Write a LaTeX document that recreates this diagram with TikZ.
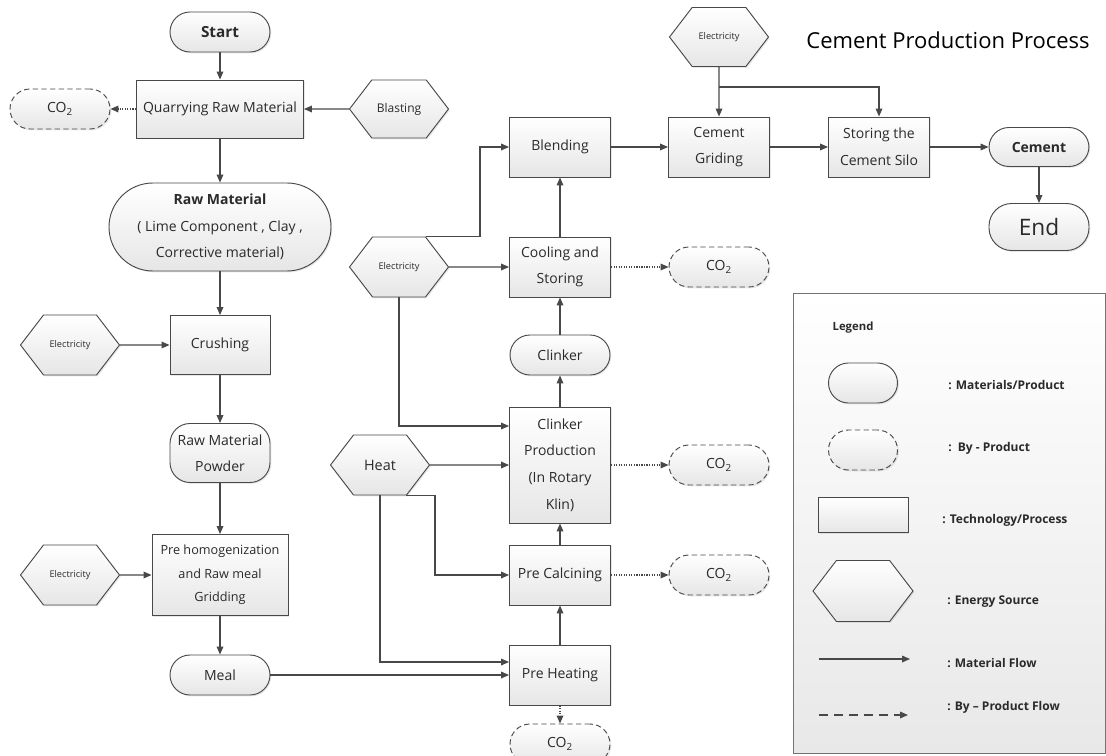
\documentclass[tikz,border=0pt]{standalone}
\usepackage{fontspec}
\setmainfont{Open Sans}
\usetikzlibrary{arrows.meta,shapes.misc,shapes.symbols,shadows}
\newlength{\pxl}\setlength{\pxl}{0.75pt}
\definecolor{linec}{HTML}{484848}
\definecolor{fillb}{HTML}{E6E6E6}
\definecolor{txtc}{HTML}{2A2A2A}

\begin{document}
\begin{tikzpicture}[x=0.75pt,y=-0.75pt,
  every node/.style={inner sep=0pt, align=center, text=txtc, font=\fontsize{10.5}{20}\selectfont},
  base/.style={draw=linec, line width=0.7pt, top color=white, bottom color=fillb,
    drop shadow={shadow xshift=1pt, shadow yshift=-1pt, opacity=0.18}},
  proc/.style={base, rectangle, minimum width=101\pxl, minimum height=60\pxl},
  matl/.style={base, rectangle, rounded corners=15pt, minimum width=100\pxl, minimum height=40\pxl},
  byprod/.style={matl, dash pattern=on 4pt off 2.5pt},
  energy/.style={base, signal, signal to=east and west, signal pointer angle=105,
    minimum width=99\pxl, minimum height=60\pxl},
  small/.style={font=\fontsize{6.9}{8}\selectfont},
  flow/.style={draw=linec, line width=0.9pt, -{Triangle[length=6pt,width=5pt]}},
  byflow/.style={flow, densely dotted},
  lgtext/.style={anchor=west, font=\bfseries\fontsize{9}{11}\selectfont}
]
\useasboundingbox (0,0) rectangle (1106,756);

% left column
\node[matl, font=\bfseries\fontsize{11.5}{14}\selectfont] (start) at (220,32) {Start};
\node[proc, minimum width=167\pxl, minimum height=58\pxl] (quarry) at (220,109) {Quarrying Raw Material};
\node[byprod] (co2a) at (60,109) {CO\textsubscript{2}};
\node[energy, font=\fontsize{9}{11}\selectfont, minimum height=58\pxl] (blast) at (399,109) {Blasting};
\node[matl, minimum width=222\pxl, minimum height=88\pxl, rounded corners=33pt] (rawmat) at (220,227)
  {\textbf{Raw Material}\\( Lime Component , Clay ,\\Corrective material)};
\node[energy, small] (elecA) at (70,345) {Electricity};
\node[proc, minimum width=100\pxl, minimum height=59\pxl] (crush) at (220,345) {Crushing};
\node[matl, minimum height=59\pxl, font=\fontsize{10.5}{19.5}\selectfont] (powder) at (220,453) {Raw Material\\Powder};
\node[energy, small] (elecC) at (70,575) {Electricity};
\node[proc, minimum width=136\pxl, minimum height=81\pxl, font=\fontsize{9.5}{17.5}\selectfont] (prehom) at (220,575)
  {Pre homogenization\\and Raw meal\\Gridding};
\node[matl] (meal) at (220,675) {Meal};

% middle column
\node[energy, small] (elecB) at (399,267) {Electricity};
\node[energy, font=\fontsize{10.8}{13}\selectfont] (heat) at (380,465) {Heat};
\node[proc] (blend) at (560,147) {Blending};
\node[proc] (cool) at (560,267) {Cooling and\\Storing};
\node[matl] (clinker) at (560,355) {Clinker};
\node[proc, minimum height=116\pxl] (kiln) at (560,465) {Clinker\\Production\\(In Rotary\\Klin)};
\node[proc] (precalc) at (560,575) {Pre Calcining};
\node[proc] (preheat) at (560,675) {Pre Heating};
\node[byprod] (co2e) at (560,744) {CO\textsubscript{2}};
\node[byprod] (co2b) at (719,267) {CO\textsubscript{2}};
\node[byprod] (co2c) at (719,465) {CO\textsubscript{2}};
\node[byprod] (co2d) at (719,575) {CO\textsubscript{2}};

% top row
\node[energy, small, minimum height=59\pxl] (elecD) at (719,37) {Electricity};
\node[proc] (grind) at (719,147) {Cement\\Griding};
\node[proc] (silo) at (879,147) {Storing the\\Cement Silo};
\node[matl, minimum height=39\pxl, font=\bfseries\fontsize{10.5}{13}\selectfont] (cement) at (1039,147) {Cement};
\node[matl, minimum height=47\pxl, rounded corners=17pt, font=\fontsize{17}{20}\selectfont] (endn) at (1039,227) {End};
\node[text=black, font=\fontsize{16.5}{20}\selectfont] (title) at (948,40) {Cement Production Process};

% connectors
\draw[flow] (start) -- (quarry);
\draw[byflow] (quarry) -- (co2a);
\draw[flow] (blast) -- (quarry);
\draw[flow] (quarry) -- (rawmat);
\draw[flow] (rawmat) -- (crush);
\draw[flow] (elecA) -- (crush);
\draw[flow] (crush) -- (powder);
\draw[flow] (powder) -- (prehom);
\draw[flow] (elecC) -- (prehom);
\draw[flow] (prehom) -- (meal);
\draw[flow] (meal) -- (preheat);
\draw[flow] (heat.south) |- ([yshift=13\pxl]preheat.west);
\draw[flow] ([xshift=26\pxl]heat.south) -- ++(29,0) |- (precalc.west);
\draw[flow] (heat) -- (kiln);
\draw[flow] (elecB) -- (cool);
\draw[flow] (elecB.south) |- ([yshift=39\pxl]kiln.west);
\draw[flow] ([xshift=27\pxl]elecB.north) -- ++(54,0) |- (blend.west);
\draw[flow] (preheat) -- (precalc);
\draw[flow] (precalc) -- (kiln);
\draw[flow] (kiln) -- (clinker);
\draw[flow] (clinker) -- (cool);
\draw[flow] (cool) -- (blend);
\draw[flow] (blend) -- (grind);
\draw[flow] (grind) -- (silo);
\draw[flow] (silo) -- (cement);
\draw[flow] (cement) -- (endn);
\draw[flow] (elecD) -- (grind);
\draw[flow] (elecD.south) ++(0,20) -| (silo.north);
\draw[byflow] (cool) -- (co2b);
\draw[byflow] (kiln) -- (co2c);
\draw[byflow] (precalc) -- (co2d);
\draw[byflow] (preheat) -- (co2e);

% legend
\node[draw=black!55, line width=0.6pt, top color=white, bottom color=black!9,
  minimum width=312\pxl, minimum height=460\pxl] (legend) at (949,523) {};
\node[font=\bfseries\fontsize{8.5}{10}\selectfont] (lgtitle) at (853,328) {Legend};
\node[matl, minimum width=69\pxl] (lgmat) at (863,383) {};
\node[byprod, minimum width=69\pxl] (lgby) at (863,450) {};
\node[proc, minimum width=90\pxl, minimum height=35\pxl] (lgproc) at (863,515) {};
\node[energy, minimum width=100\pxl, minimum height=61\pxl] (lgen) at (863,591) {};
\coordinate (lgA) at (819,659);
\coordinate (lgB) at (910,659);
\coordinate (lgC) at (819,715);
\coordinate (lgD) at (908,715);
\draw[flow] (lgA) -- (lgB);
\draw[flow, dash pattern=on 9\pxl off 6\pxl] (lgC) -- (lgD);
\node[lgtext] (lbmat) at (948,385) {: Materials/Product};
\node[lgtext] (lbby) at (948,448) {:\ \ By - Product};
\node[lgtext] (lbproc) at (942,520) {: Technology/Process};
\node[lgtext] (lben) at (947,602) {: Energy Source};
\node[lgtext] (lbflow) at (947,663) {: Material Flow};
\node[lgtext] (lbbyflow) at (947,707) {: By – Product Flow};
\end{tikzpicture}
\end{document}
